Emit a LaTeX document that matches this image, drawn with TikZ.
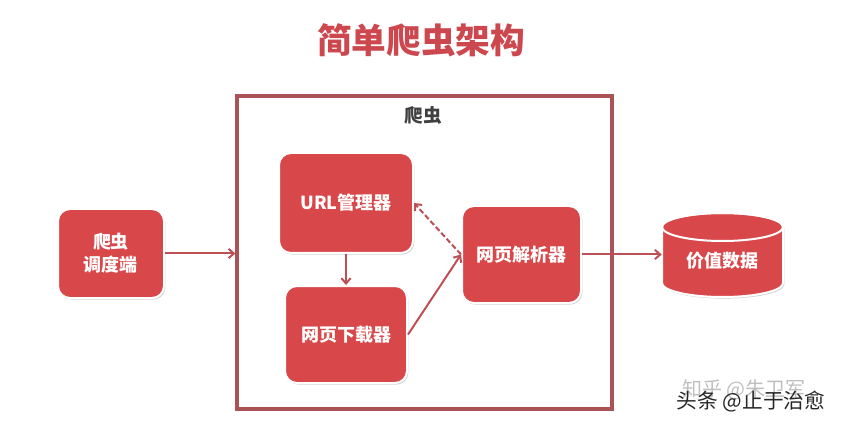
\documentclass[tikz,border=0pt]{standalone}
\usepackage{fontspec}
\setmainfont{Noto Sans CJK SC}
\usepackage{tikz}
\pgfdeclarelayer{bg}
\pgfsetlayers{bg,main}
\usetikzlibrary{arrows.meta,positioning,shapes,shadows,calc}

\definecolor{boxred}{RGB}{216,72,74}
\definecolor{titlered}{RGB}{204,72,78}
\definecolor{framered}{RGB}{170,82,86}
\definecolor{arrowred}{RGB}{190,80,85}

\tikzset{
  module/.style={draw=white, line width=1.5pt, fill=boxred, rounded corners=9pt,
    text=white, align=center, font=\bfseries\fontsize{13.5}{17}\selectfont,
    drop shadow={opacity=.35, shadow xshift=1pt, shadow yshift=-1.2pt}},
  link/.style={draw=arrowred, line width=1.5pt, -{Straight Barb[length=4pt,width=7pt]}},
}

\begin{document}
\begin{tikzpicture}[x=0.75pt, y=-0.75pt]
  \useasboundingbox (0,0) rectangle (844,428);
  \node (title) at (421,40) [text=titlered, font=\bfseries\fontsize{26}{30}\selectfont] {简单爬虫架构};
  \node (sched) at (111,253.5) [module, minimum width=79.5pt, minimum height=66.75pt] {爬虫\\调度端};
  \node (url) at (346,203) [module, minimum width=100.5pt, minimum height=75pt] {URL管理器};
  \node (down) at (346,334.5) [module, minimum width=91.5pt, minimum height=72.75pt] {网页下载器};
  \node (parser) at (521.5,254.5) [module, minimum width=89.25pt, minimum height=72.75pt] {网页解析器};
  \node (label) at (423,115) [text=black!75, font=\bfseries\fontsize{14}{16}\selectfont] {爬虫};
  \begin{pgfonlayer}{bg}
    \node[draw=framered, line width=2.4pt, fill=white, minimum width=281.25pt, minimum height=234.75pt,
      drop shadow={opacity=.35, shadow xshift=1.4pt, shadow yshift=-1.4pt}] (crawler) at (424.5,252.5) { };
  \end{pgfonlayer}
  % value data store
  \fill[boxred, drop shadow={opacity=.35, shadow xshift=1pt, shadow yshift=-1.2pt}]
    (662,227) -- (662,283) arc[start angle=180, end angle=360, x radius=45.4pt, y radius=10.5pt]
    -- (783,227) arc[start angle=0, end angle=180, x radius=45.4pt, y radius=10.5pt] -- cycle;
  \draw[white, line width=1.5pt]
    (662,227) -- (662,283) arc[start angle=180, end angle=360, x radius=45.4pt, y radius=10.5pt]
    -- (783,227) arc[start angle=0, end angle=180, x radius=45.4pt, y radius=10.5pt];
  \draw[white, line width=1.5pt] (722.5,227) ellipse [x radius=45.4pt, y radius=10.5pt];
  \node (data) at (722.5,261) [minimum width=90.75pt, inner sep=0pt, text=white,
    font=\bfseries\fontsize{13.5}{17}\selectfont] {价值数据};

  \draw[link] (sched.east) -- (sched.east -| crawler.west);
  \draw[link] (url) -- (down);
  \draw[link] (down.east) -- (parser.west);
  \draw[link, dash pattern=on 4pt off 2pt] (parser.west) -- (url.east);
  \draw[link] (parser.east) -- (parser.east -| data.west);

  % watermarks
  \node (zhihu) at (744,390) [text=black!25, font=\fontsize{15}{15}\selectfont] {知乎 @朱卫军};
  \node (toutiao) at (751,402) [text=black!85, font=\fontsize{15.5}{16}\selectfont] {头条 @止于治愈};
\end{tikzpicture}
\end{document}
